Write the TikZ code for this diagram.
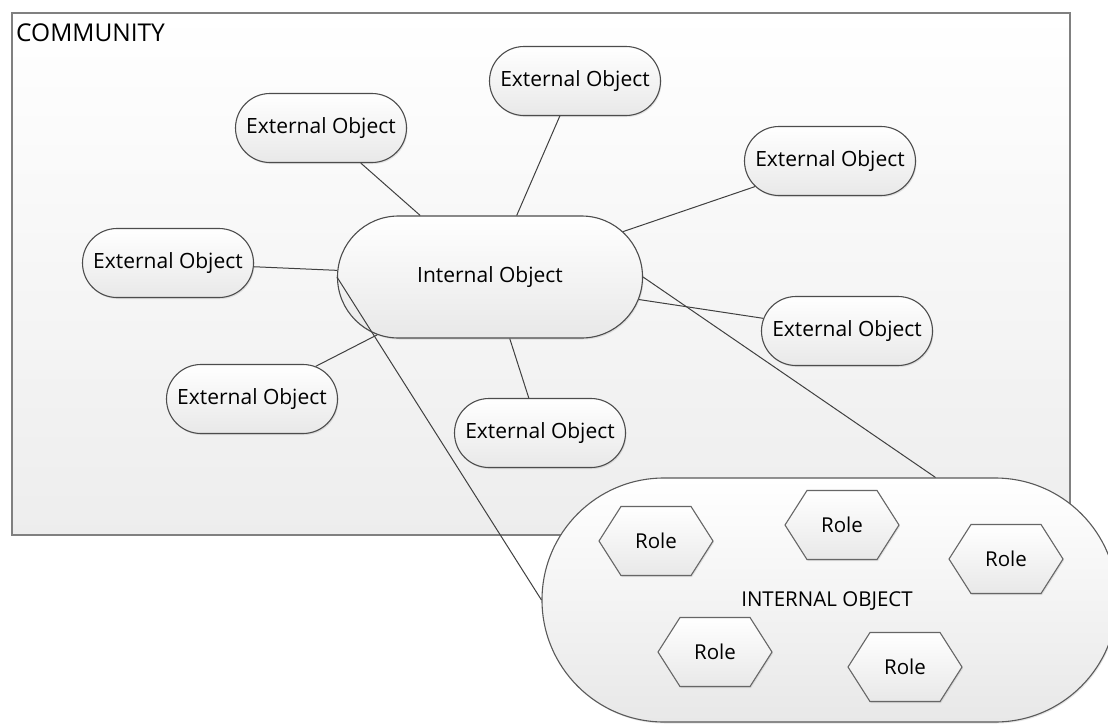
\documentclass[tikz,border=0pt]{standalone}
\usepackage{fontspec}
\setmainfont{Open Sans}
\usetikzlibrary{shapes.misc,shapes.symbols,shadows}
\begin{document}
\begin{tikzpicture}[x=1pt,y=-1pt,
  font=\fontsize{21}{25}\selectfont,
  shade/.style={top color=white, bottom color=black!9},
  shad/.style={drop shadow={opacity=0.2, shadow xshift=1pt, shadow yshift=-1.5pt}},
  obj/.style={rounded rectangle, draw=black!70, line width=1.1pt, shade, shad, inner sep=0pt},
  ext/.style={obj, minimum width=171pt, minimum height=69pt},
  rolebox/.style={signal, signal to=west and east, signal pointer angle=115,
    draw=black!60, line width=1.1pt, shade, shad, inner sep=0pt,
    minimum width=114pt, minimum height=69pt, font=\fontsize{20.5}{24}\selectfont},
  link/.style={draw=black!75, line width=1pt}
]
\useasboundingbox (0,0) rectangle (1108,726);
\clip (0,0) rectangle (1108,726);
\fill[white] (0,0) rectangle (1108,726);

% community container
\node[draw=black!50, line width=2pt, top color=white, bottom color=black!7,
  minimum width=1058pt, minimum height=522pt, inner sep=0pt] (comm) at (541,274) {};
\node[anchor=base west, inner sep=0pt, font=\fontsize{24.5}{28}\selectfont] (commlbl)
  at ([xshift=5pt,yshift=-29pt]comm.north west) {COMMUNITY};

% nodes
\node[ext] (e1) at (321,128) {External Object};
\node[ext] (e2) at (575,81)  {External Object};
\node[ext] (e3) at (830,161) {External Object};
\node[ext] (e4) at (168,263) {External Object};
\node[ext] (e5) at (252,399) {External Object};
\node[ext] (e6) at (540,433) {External Object};
\node[ext] (e7) at (847,331) {External Object};
\node[obj, minimum width=305pt, minimum height=122pt] (io) at (490,277) {Internal Object};

% connectors
\foreach \k in {1,...,7}{\path[link] (io) -- (e\k);}

% zoomed internal object
\node[obj, minimum width=575pt, minimum height=244pt, draw=black!65] (big) at (829.5,600) {};
\node[inner sep=0pt, font=\fontsize{20.5}{24}\selectfont] (biglbl) at (827,601) {INTERNAL OBJECT};
\path[link] (io.west) -- (big.west);
\path[link] (io.east) -- ([xshift=106pt]big.north);

\node[rolebox] (r1) at (656,541) {Role};
\node[rolebox] (r2) at (842,525) {Role};
\node[rolebox] (r3) at (1006,559) {Role};
\node[rolebox] (r4) at (715,652) {Role};
\node[rolebox] (r5) at (905,667) {Role};
\end{tikzpicture}
\end{document}
